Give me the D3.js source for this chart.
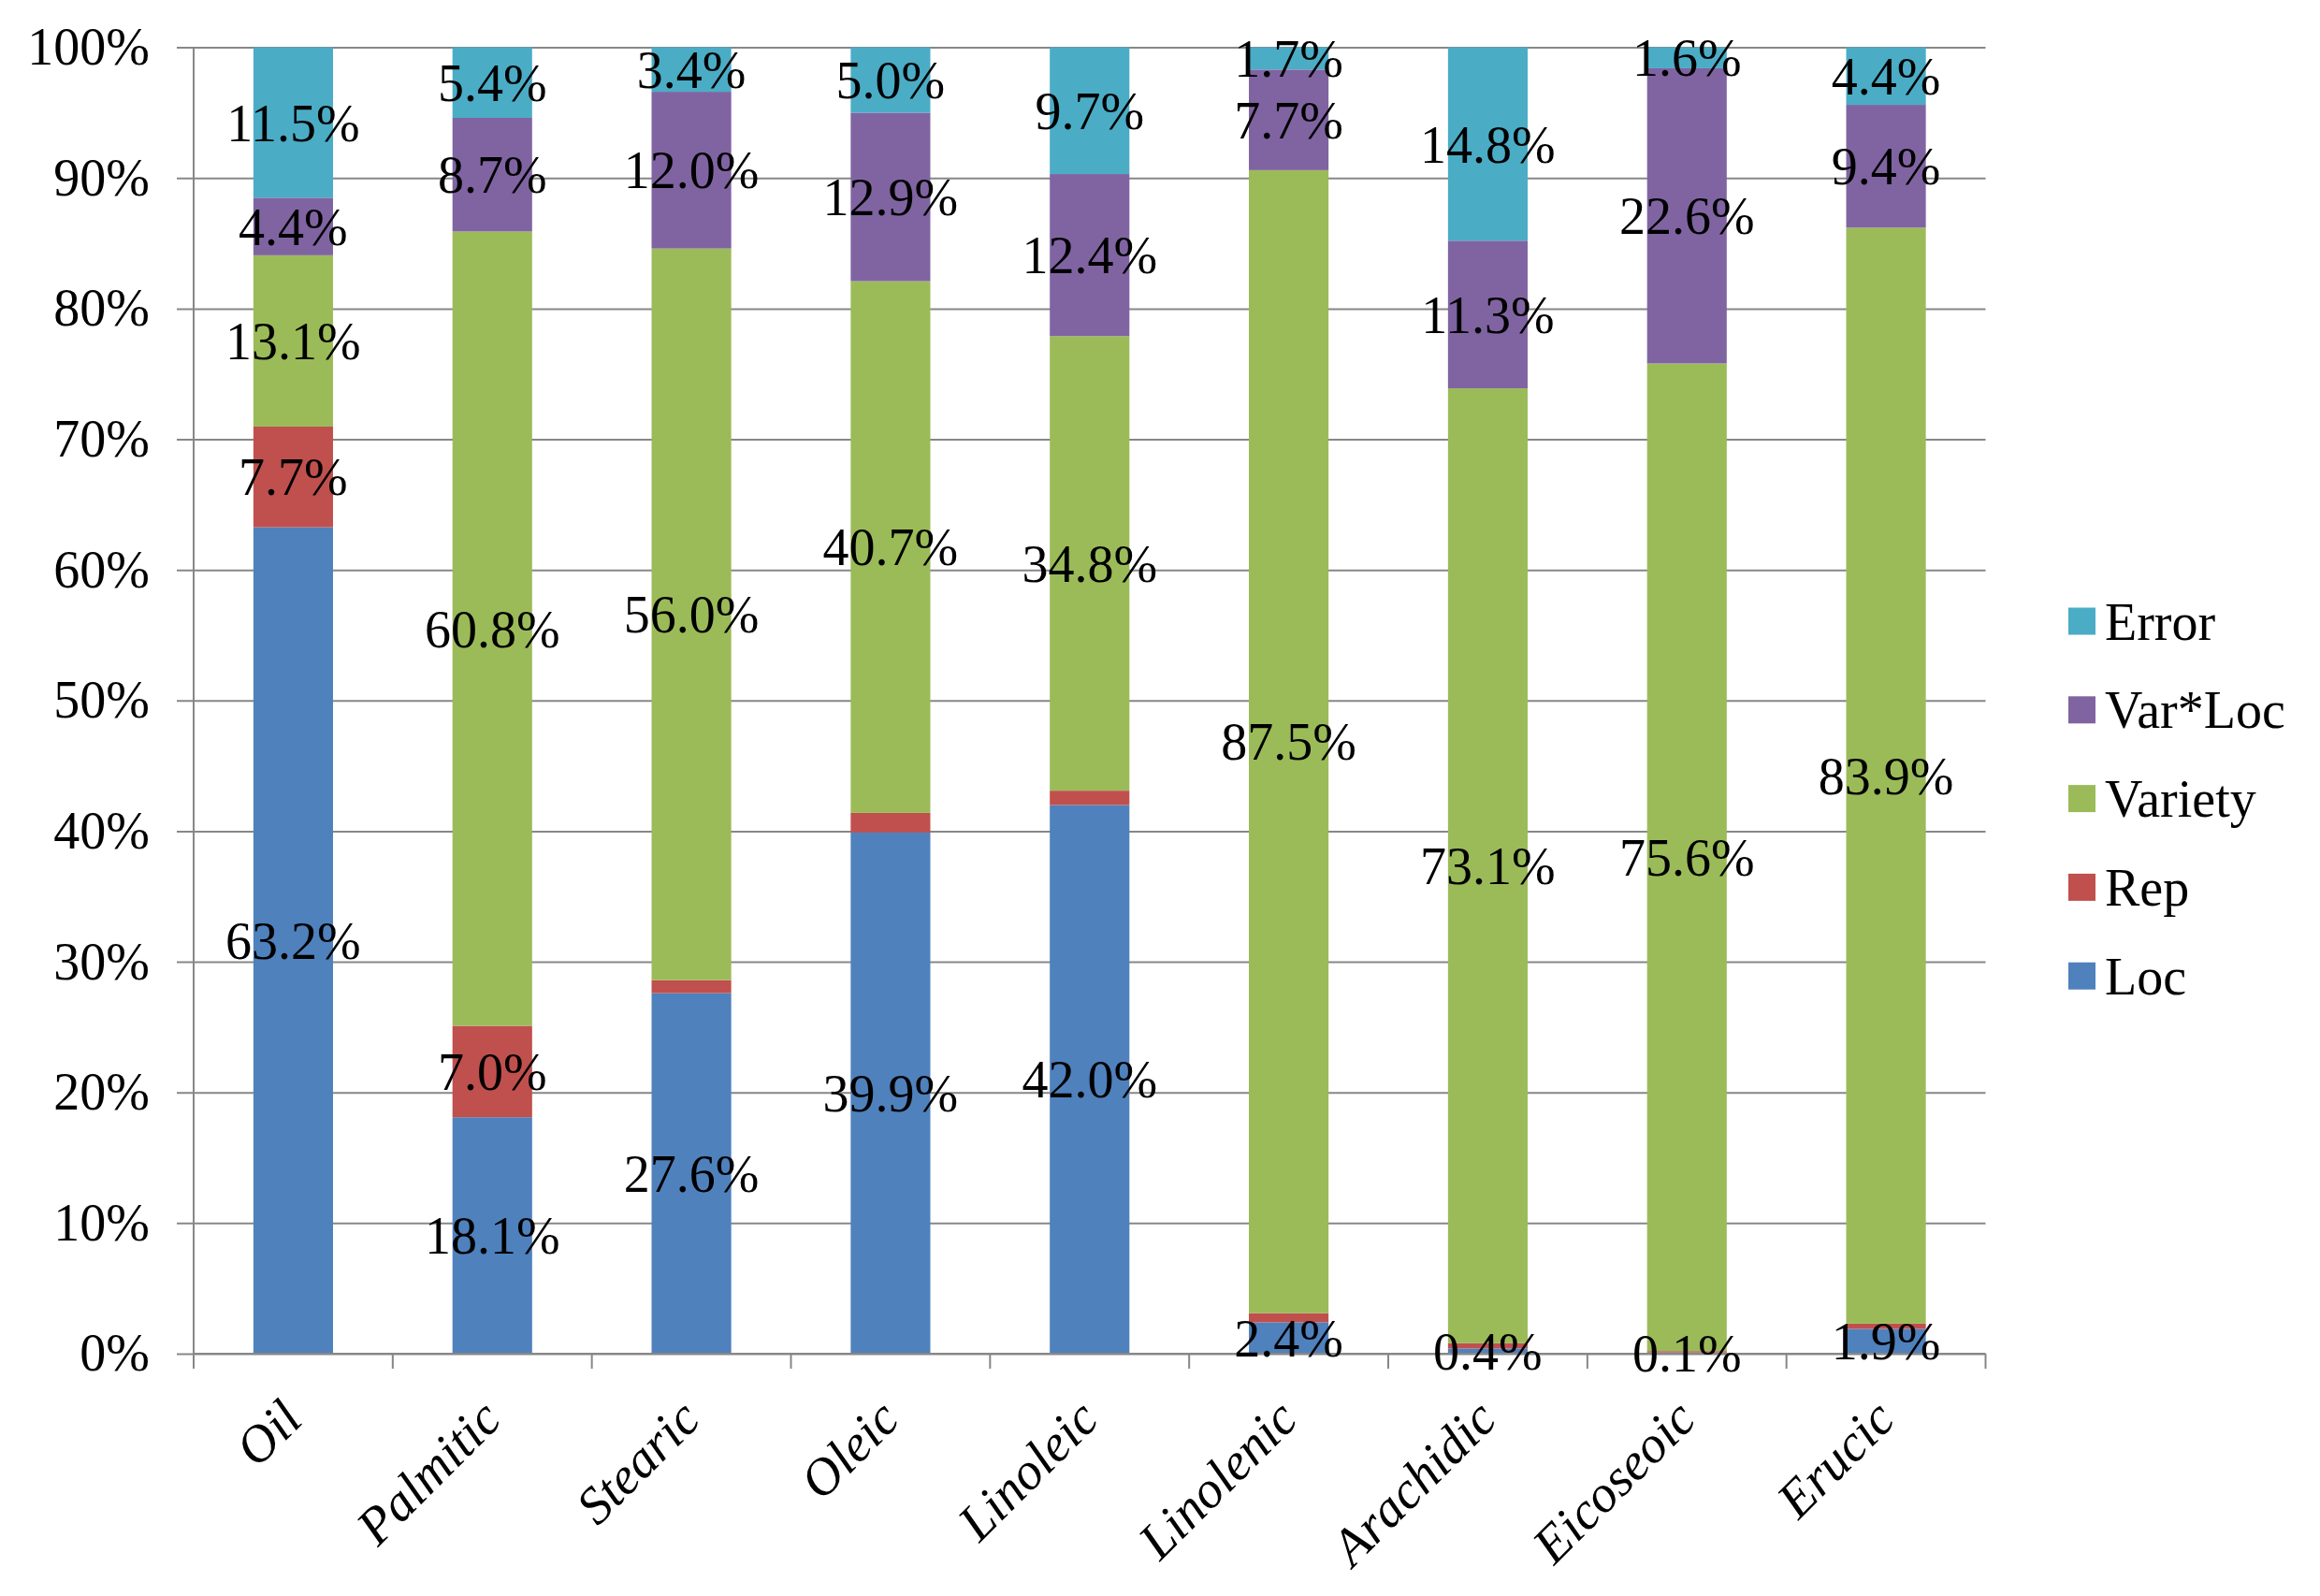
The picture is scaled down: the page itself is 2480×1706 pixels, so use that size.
<!DOCTYPE html>
<html>
<head>
<meta charset="utf-8">
<script src="https://cdn.jsdelivr.net/npm/d3@7"></script>
<style>
  body { margin: 0; background: #fff; }
  text { font-family: "Liberation Serif", "Times New Roman", serif; fill: #000; }
</style>
</head>
<body>
<svg id="chart" width="2480" height="1706"></svg>
<script>
// data (percent of variance)
var categories = ["Oil", "Palmitic", "Stearic", "Oleic", "Linoleic", "Linolenic", "Arachidic", "Eicoseoic", "Erucic"];
var seriesNames = ["Loc", "Rep", "Variety", "Var*Loc", "Error"];
var loc     = [63.2, 18.1, 27.6, 39.9, 42.0, 2.4, 0.4, 0.1, 1.9];
var rep     = [7.7, 7.0, 1.0, 1.5, 1.1, 0.7, 0.4, 0.1, 0.4];
var variety = [13.1, 60.8, 56.0, 40.7, 34.8, 87.5, 73.1, 75.6, 83.9];
var varLoc  = [4.4, 8.7, 12.0, 12.9, 12.4, 7.7, 11.3, 22.6, 9.4];
var error   = [11.5, 5.4, 3.4, 5.0, 9.7, 1.7, 14.8, 1.6, 4.4];
var yTicks  = [0, 0.1, 0.2, 0.3, 0.4, 0.5, 0.6, 0.7, 0.8, 0.9, 1];

var colors = ["#4F81BD", "#C0504D", "#9BBB59", "#8064A2", "#4BACC6"];

var margin = {top: 50.6, left: 207, right: 357.5, bottom: 259};
var width = 2480 - margin.left - margin.right;
var height = 1706 - margin.top - margin.bottom;

var svg = d3.select("#chart");
var g = svg.append("g")
  .attr("transform", "translate(" + margin.left + "," + margin.top + ")");

// build rows for the stack
var cols = [loc, rep, variety, varLoc, error];
var rows = categories.map(function(c, i) {
  var r = {cat: c};
  seriesNames.forEach(function(s, j) { r[s] = cols[j][i]; });
  return r;
});

var stacked = d3.stack()
  .keys(seriesNames)
  .offset(d3.stackOffsetExpand)(rows);

var x = d3.scaleBand()
  .domain(categories)
  .range([0, width])
  .paddingInner(0.6)
  .paddingOuter(0.3);

var y = d3.scaleLinear()
  .domain([0, 1])
  .range([height, 0]);

// gridlines + y axis labels
var yAxis = g.append("g")
  .attr("font-family", "Liberation Serif")
  .call(d3.axisLeft(y).tickValues(yTicks).tickFormat(d3.format(".0%")).tickSize(0).tickPadding(47));
yAxis.attr("font-family", "Liberation Serif");
yAxis.select(".domain").remove();
yAxis.selectAll(".tick line")
  .attr("x1", -18)
  .attr("x2", width)
  .attr("stroke", "#878787")
  .attr("stroke-width", 2);
yAxis.selectAll(".tick text")
  .attr("font-size", 56)
  .attr("fill", "#000");

// vertical axis line
g.append("line")
  .attr("x1", 0).attr("x2", 0)
  .attr("y1", 0).attr("y2", height)
  .attr("stroke", "#878787")
  .attr("stroke-width", 2);

// bars
var layers = g.selectAll(".layer")
  .data(stacked)
  .enter().append("g")
  .attr("class", "layer")
  .attr("fill", function(d, i) { return colors[i]; });

layers.selectAll("rect")
  .data(function(d) { return d; })
  .enter().append("rect")
  .attr("x", function(d) { return x(d.data.cat); })
  .attr("width", x.bandwidth())
  .attr("y", function(d) { return y(d[1]); })
  .attr("height", function(d) { return y(d[0]) - y(d[1]); });

// x axis line and boundary ticks
g.append("line")
  .attr("x1", 0).attr("x2", width)
  .attr("y1", height).attr("y2", height)
  .attr("stroke", "#878787")
  .attr("stroke-width", 2);

g.selectAll(".xtick")
  .data(d3.range(categories.length + 1))
  .enter().append("line")
  .attr("class", "xtick")
  .attr("x1", function(i) { return i * x.step(); })
  .attr("x2", function(i) { return i * x.step(); })
  .attr("y1", height)
  .attr("y2", height + 16)
  .attr("stroke", "#878787")
  .attr("stroke-width", 2);

// category labels
g.selectAll(".xlabel")
  .data(categories)
  .enter().append("text")
  .attr("class", "xlabel")
  .attr("transform", function(d) {
    return "translate(" + (x(d) + x.bandwidth() / 2 + 12) + "," + (height + 73) + ") rotate(-45)";
  })
  .attr("text-anchor", "end")
  .attr("font-size", 56)
  .attr("font-style", "italic")
  .text(function(d) { return d; });

// data labels (small Rep values are not labelled)
layers.each(function(layer, li) {
  d3.select(this.parentNode).append("g").selectAll("text")
    .data(layer.filter(function(d) { return !(seriesNames[li] == "Rep" && d.data.Rep < 5); }))
    .enter().append("text")
    .attr("x", function(d) { return x(d.data.cat) + x.bandwidth() / 2; })
    .attr("y", function(d) { return (y(d[0]) + y(d[1])) / 2; })
    .attr("dy", "0.35em")
    .attr("text-anchor", "middle")
    .attr("font-size", 56)
    .text(function(d) { return d.data[seriesNames[li]].toFixed(1) + "%"; });
});

// legend
var legend = svg.append("g")
  .attr("transform", "translate(2211,664)");

var items = legend.selectAll(".legend")
  .data(seriesNames.slice().reverse())
  .enter().append("g")
  .attr("class", "legend")
  .attr("transform", function(d, i) { return "translate(0," + i * 94.8 + ")"; });

items.append("rect")
  .attr("x", 0)
  .attr("y", -14.5)
  .attr("width", 29)
  .attr("height", 29)
  .attr("fill", function(d) { return colors[seriesNames.indexOf(d)]; });

items.append("text")
  .attr("x", 39)
  .attr("y", 0)
  .attr("dy", "0.35em")
  .attr("font-size", 56)
  .text(function(d) { return d; });
</script>
</body>
</html>
